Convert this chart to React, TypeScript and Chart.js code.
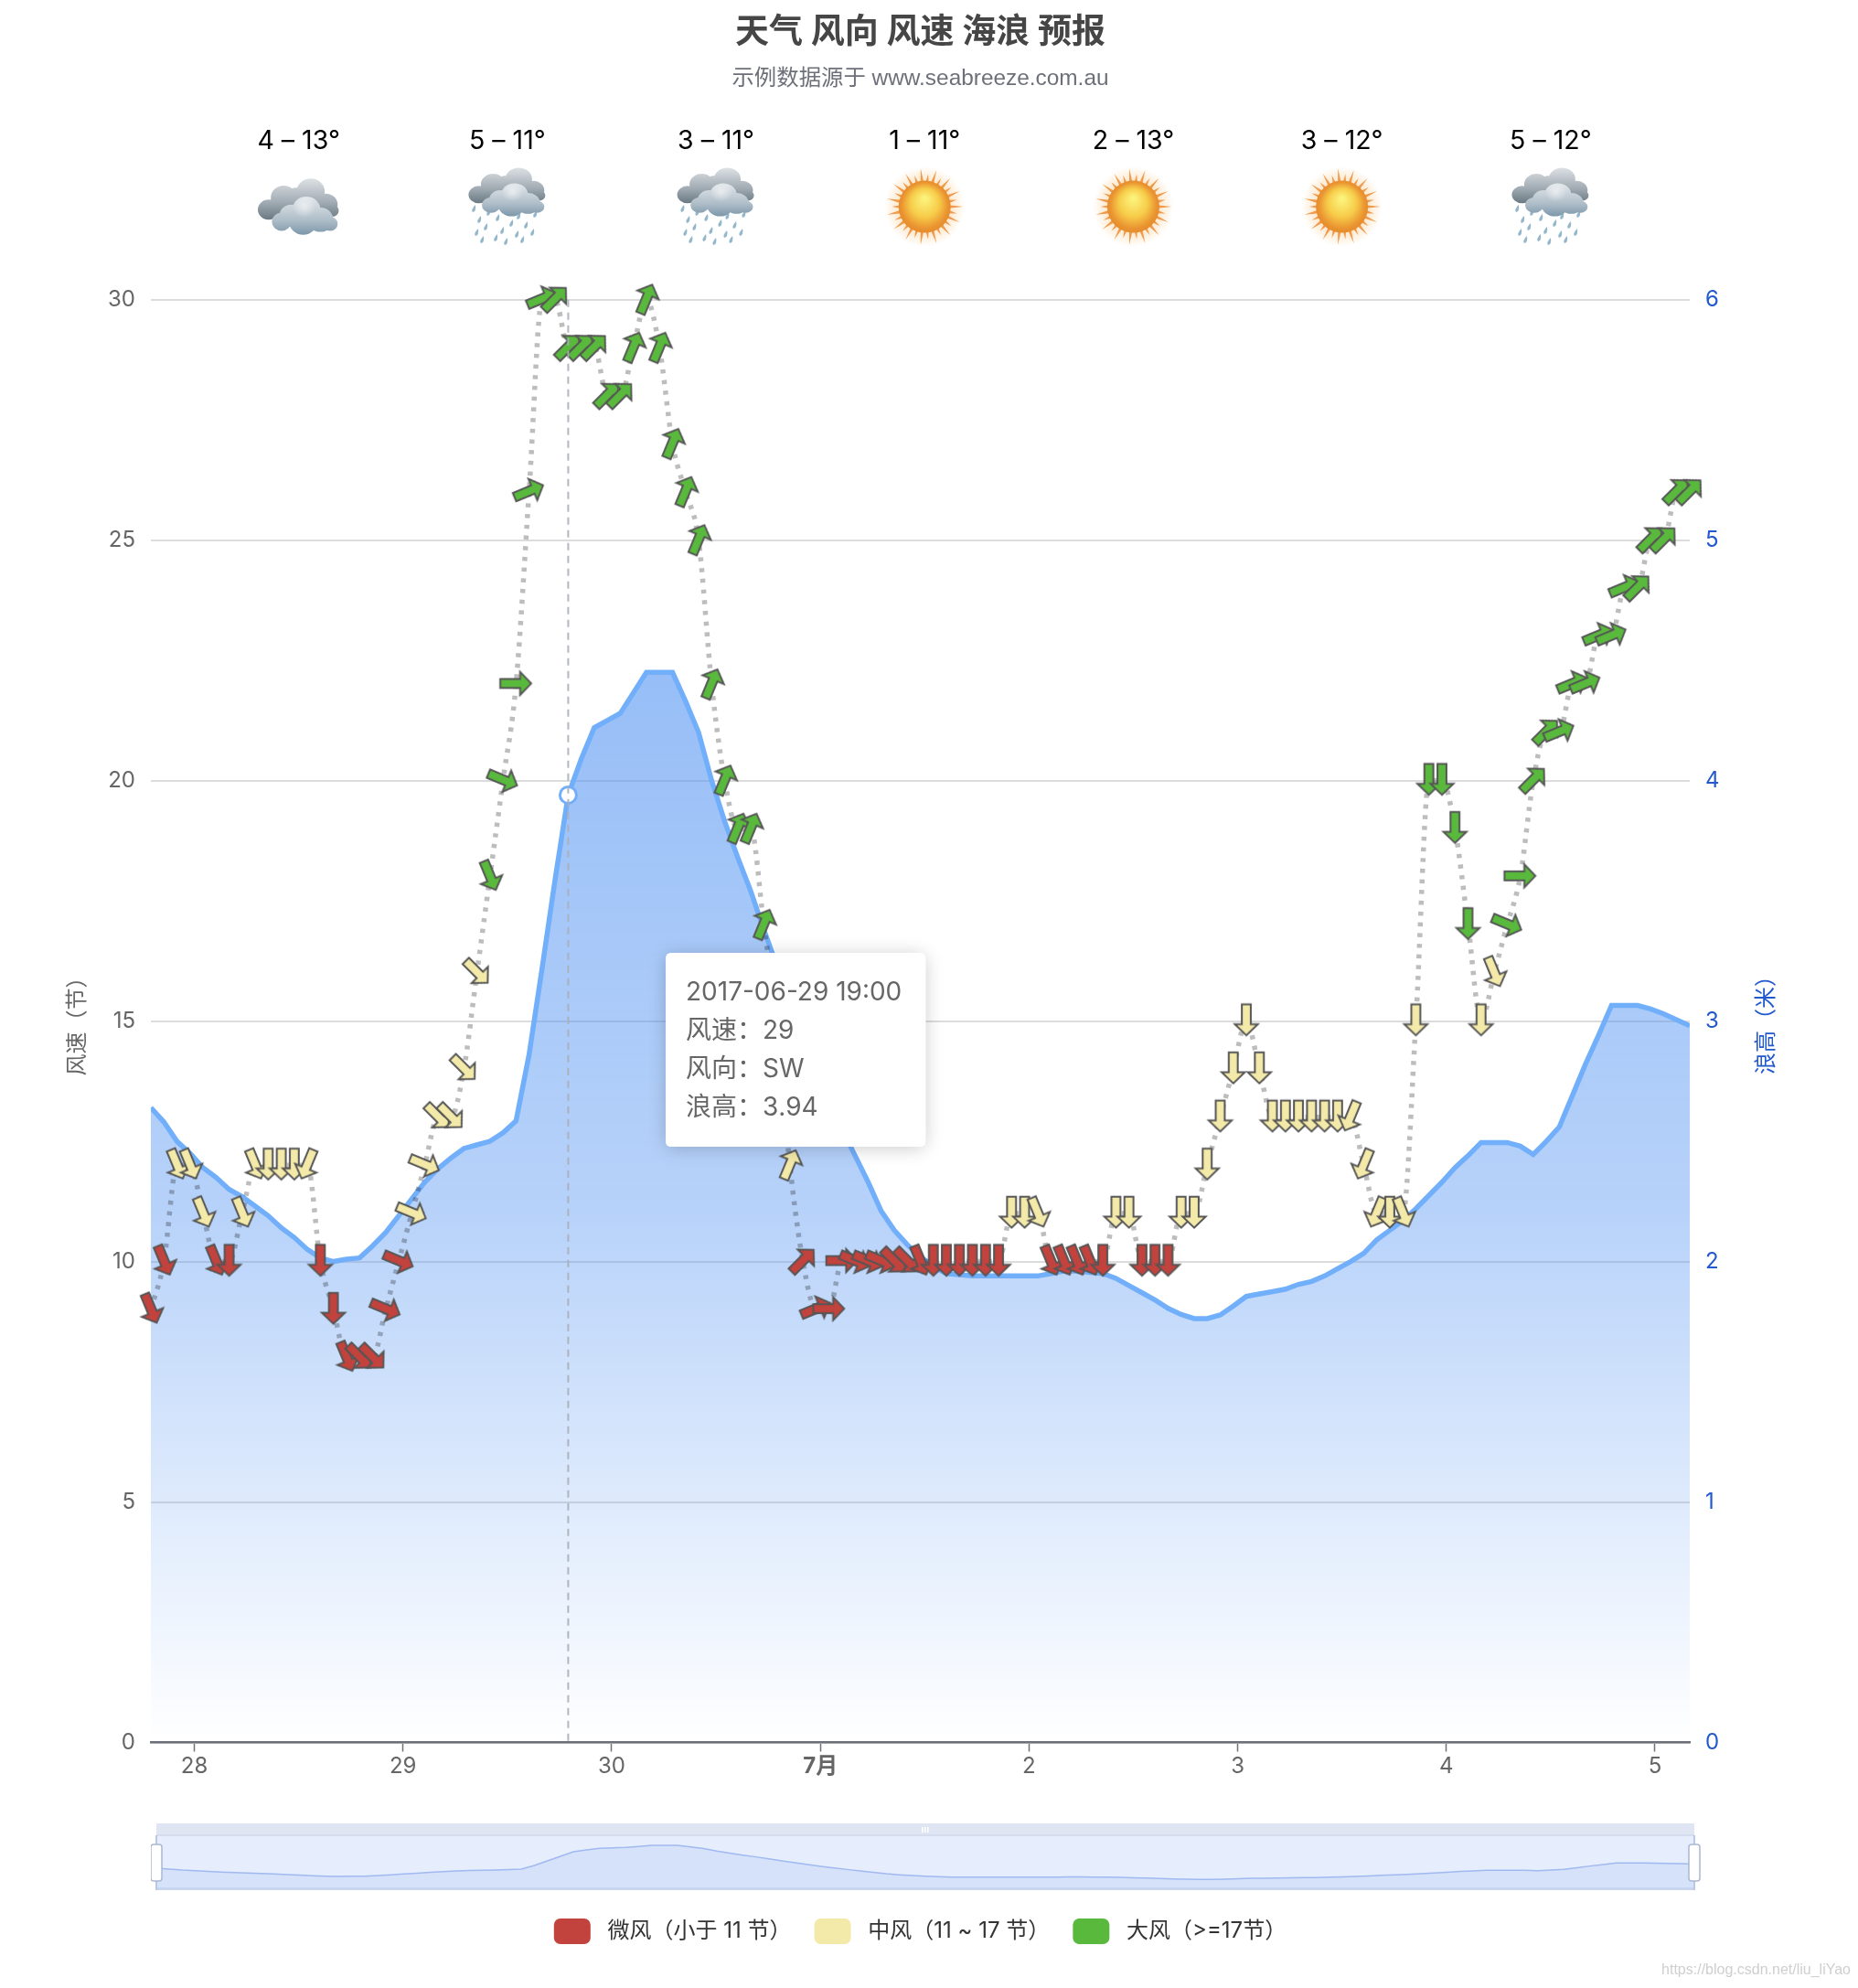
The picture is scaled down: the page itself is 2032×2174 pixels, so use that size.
import { useEffect, useRef } from 'react';
import { Chart, registerables, Tooltip } from 'chart.js';

Chart.register(...registerables);

const FONT = "Inter, 'Noto Sans CJK SC', sans-serif";
const CJK = "'Noto Sans CJK SC', sans-serif";

// hours since 2017-06-28 00:00, one reading each 1.5 h
const FIRST_HOUR = -5;
const STEP_HOURS = 1.5;
const LAST_HOUR = 172;

const windSpeed = [
  9,10,12,12,11,10,10,11,12,12,12,12,12,10,9,8,8,8,9,10,
  11,12,13,13,14,16,18,20,22,26,30,30,29,29,29,28,28,29,30,29,
  27,26,25,22,20,19,19,17,15,12,10,9,9,10,10,10,10,10,10,10,
  10,10,10,10,10,10,11,11,11,10,10,10,10,10,11,11,10,10,10,11,
  11,12,13,14,15,14,13,13,13,13,13,13,13,12,11,11,11,15,20,20,
  19,17,15,16,17,18,20,21,21,22,22,23,23,24,24,25,25,26,26,
];

const windDir = [
  'NNW','NNW','NNW','NNW','NNW','NNW','N','NNW','NNW','N','N','N','NNE','N','N','NNW','NW','NW','WNW','WNW',
  'WNW','WNW','NW','NW','NW','NW','NNW','WNW','W','WSW','WSW','SW','SW','SW','SW','SW','SW','SSW','SSW','SSW',
  'SSW','SSW','SSW','SSW','SSW','SSW','SSW','SSW','SSW','SSW','SW','WSW','W','W','WNW','WNW','WNW','NW','NW','NNW',
  'N','N','N','N','N','N','N','N','NNW','NNW','NNW','NNW','NNW','N','N','N','N','N','N','N',
  'N','N','N','N','N','N','N','N','N','N','N','N','NNE','NNE','NNE','N','NNW','N','N','N',
  'N','N','N','NNW','WNW','W','SW','SW','WSW','WSW','WSW','WSW','WSW','WSW','SW','SW','SW','SW','SW',
];

const waveHeight = [
  2.64,2.58,2.50,2.45,2.39,2.35,2.30,2.27,2.23,2.19,2.14,2.10,2.05,2.015,2.0,2.01,2.015,2.065,2.12,2.19,
  2.26,2.33,2.385,2.43,2.47,2.485,2.50,2.535,2.585,2.86,3.22,3.59,3.94,4.09,4.22,4.25,4.28,4.365,4.45,4.45,
  4.45,4.33,4.2,4.0,3.83,3.68,3.54,3.38,3.23,3.08,2.94,2.80,2.67,2.55,2.44,2.33,2.21,2.13,2.07,2.02,
  1.98,1.95,1.945,1.94,1.94,1.94,1.94,1.94,1.94,1.95,1.96,1.96,1.955,1.95,1.93,1.90,1.87,1.84,1.805,1.78,
  1.763,1.763,1.778,1.815,1.855,1.865,1.875,1.885,1.905,1.917,1.94,1.97,2.0,2.034,2.09,2.13,2.17,2.22,2.275,2.33,
  2.39,2.44,2.495,2.495,2.495,2.48,2.445,2.50,2.56,2.69,2.82,2.94,3.065,3.065,3.065,3.05,3.03,3.005,2.98,
];

const compassDegrees: Record<string, number> = {
  N: 0, NNE: 22.5, NE: 45, ENE: 67.5, E: 90, ESE: 112.5, SE: 135, SSE: 157.5,
  S: 180, SSW: 202.5, SW: 225, WSW: 247.5, W: 270, WNW: 292.5, NW: 315, NNW: 337.5,
};

const xTickHours = [0, 24, 48, 72, 96, 120, 144, 168];
const xTickLabels = ['28', '29', '30', '7月', '2', '3', '4', '5'];

const dayRanges = ['4 – 13°', '5 – 11°', '3 – 11°', '1 – 11°', '2 – 13°', '3 – 12°', '5 – 12°'];
const dayIcons = ['cloud', 'rain', 'rain', 'sun', 'sun', 'sun', 'rain'];
const dayNoonHours = [12, 36, 60, 84, 108, 132, 156];

const hoverIndex = 32;
const tooltipTitle = '2017-06-29 19:00';
const tooltipLines = ['风速：29', '风向：SW', '浪高：3.94'];

const bands = [
  { label: '微风（小于 11 节）', color: '#c2423d', test: (v: number) => v < 11 },
  { label: '中风（11 ~ 17 节）', color: '#f3e9a9', test: (v: number) => v >= 11 && v < 17 },
  { label: '大风（>=17节）', color: '#59b93c', test: (v: number) => v >= 17 },
];

const hourOf = (i: number) => FIRST_HOUR + STEP_HOURS * i;

function makeArrow(fill: string) {
  const c = document.createElement('canvas');
  c.width = 56;
  c.height = 56;
  const g = c.getContext('2d')!;
  g.translate(28, 28);
  g.beginPath();
  g.moveTo(0, -16.6);
  g.lineTo(12.6, -4.4);
  g.lineTo(4.9, -4.4);
  g.lineTo(4.9, 17.2);
  g.lineTo(-4.9, 17.2);
  g.lineTo(-4.9, -4.4);
  g.lineTo(-12.6, -4.4);
  g.closePath();
  g.fillStyle = fill;
  g.fill();
  g.lineWidth = 2;
  g.lineJoin = 'miter';
  g.strokeStyle = '#555';
  g.stroke();
  return c;
}

function blob(ctx: CanvasRenderingContext2D, circles: number[][], fill: CanvasGradient | string) {
  ctx.beginPath();
  for (const [x, y, r] of circles) {
    ctx.moveTo(x + r, y);
    ctx.arc(x, y, r, 0, Math.PI * 2);
  }
  ctx.fillStyle = fill;
  ctx.fill();
}

function drawCloudShape(ctx: CanvasRenderingContext2D) {
  const back = ctx.createLinearGradient(0, -28, 0, 14);
  back.addColorStop(0, '#dde1e4');
  back.addColorStop(0.55, '#a3adb5');
  back.addColorStop(1, '#66767f');
  blob(ctx, [[12, -15, 13], [-13, -9, 12], [-27, 3, 10], [26, -2, 11], [0, -6, 13], [-8, 4, 12], [32, 4, 6]], back);
  const front = ctx.createLinearGradient(0, -8, 0, 28);
  front.addColorStop(0, '#dfe4e8');
  front.addColorStop(0.6, '#aebdc8');
  front.addColorStop(1, '#7c97aa');
  blob(ctx, [[8, 3, 13], [-6, 9, 11], [-15, 15, 9], [21, 13, 12], [5, 15, 13], [30, 17, 7]], front);
  const shine = ctx.createRadialGradient(6, 0, 1, 6, 0, 11);
  shine.addColorStop(0, 'rgba(255,255,255,0.5)');
  shine.addColorStop(1, 'rgba(255,255,255,0)');
  blob(ctx, [[6, 0, 11]], shine);
}

function drawDrops(ctx: CanvasRenderingContext2D) {
  const drops = [
    [-36, 2], [-30, 14], [-33, 28], [-20, 6], [-23, 22], [-12, 34], [-10, 12], [-5, 26], [2, 4], [5, 18],
    [-1, 38], [13, 10], [11, 30], [22, 2], [21, 20], [31, 8], [28, 28], [37, 0], [-27, 36], [17, 36],
  ];
  ctx.fillStyle = 'rgba(130,170,195,0.85)';
  for (const [x, y] of drops) {
    ctx.beginPath();
    ctx.moveTo(x + 2, y - 5);
    ctx.quadraticCurveTo(x + 3.5, y + 2, x - 1, y + 3);
    ctx.quadraticCurveTo(x - 3, y, x + 2, y - 5);
    ctx.fill();
  }
}

function drawSun(ctx: CanvasRenderingContext2D) {
  const halo = ctx.createRadialGradient(0, 0, 26, 0, 0, 44);
  halo.addColorStop(0, 'rgba(250,190,110,0.4)');
  halo.addColorStop(1, 'rgba(250,190,110,0)');
  ctx.fillStyle = halo;
  ctx.beginPath();
  ctx.arc(0, 0, 44, 0, Math.PI * 2);
  ctx.fill();
  ctx.fillStyle = '#ef9a4c';
  const rays = 30;
  for (let k = 0; k < rays; k++) {
    const a = (k / rays) * Math.PI * 2;
    const len = k % 2 ? 36 : 42;
    ctx.beginPath();
    ctx.moveTo(Math.cos(a) * len, Math.sin(a) * len);
    ctx.lineTo(Math.cos(a + 0.07) * 26, Math.sin(a + 0.07) * 26);
    ctx.lineTo(Math.cos(a - 0.07) * 26, Math.sin(a - 0.07) * 26);
    ctx.closePath();
    ctx.fill();
  }
  const disc = ctx.createRadialGradient(0, -9, 2, 0, 0, 29);
  disc.addColorStop(0, '#fbf27a');
  disc.addColorStop(0.5, '#f7cc4a');
  disc.addColorStop(0.85, '#ea9531');
  disc.addColorStop(1, '#e58a2b');
  ctx.fillStyle = disc;
  ctx.beginPath();
  ctx.arc(0, 0, 28.5, 0, Math.PI * 2);
  ctx.fill();
}

const decorPlugin = {
  id: 'decor',
  beforeDatasetDraw(chart: any, args: any) {
    if (args.index < bands.length) {
      chart.ctx.save();
      chart.ctx.translate(0, -1);
    }
  },
  afterDatasetDraw(chart: any, args: any) {
    if (args.index < bands.length) chart.ctx.restore();
  },
  afterDatasetsDraw(chart: any) {
    const { ctx, scales } = chart;
    const x = scales.x;
    // hover guide line
    const hx = x.getPixelForValue(hourOf(hoverIndex));
    ctx.save();
    ctx.strokeStyle = 'rgba(170,175,185,0.9)';
    ctx.lineWidth = 2;
    ctx.setLineDash([8, 6]);
    ctx.beginPath();
    ctx.moveTo(hx, scales.y.top);
    ctx.lineTo(hx, scales.y.bottom);
    ctx.stroke();
    ctx.restore();

    // day headers
    dayRanges.forEach((text, d) => {
      const cx = x.getPixelForValue(dayNoonHours[d]);
      ctx.save();
      ctx.font = `28.5px ${FONT}`;
      ctx.fillStyle = '#000';
      ctx.textAlign = 'center';
      ctx.textBaseline = 'middle';
      ctx.fillText(text, cx, 154);
      ctx.restore();
      ctx.save();
      const kind = dayIcons[d];
      if (kind === 'sun') {
        ctx.translate(cx, 226);
        drawSun(ctx);
      } else if (kind === 'cloud') {
        ctx.translate(cx - 1, 226);
        ctx.scale(1.18, 1.1);
        drawCloudShape(ctx);
      } else {
        ctx.translate(cx - 1, 210);
        ctx.save();
        ctx.translate(0, 17);
        drawDrops(ctx);
        ctx.restore();
        ctx.scale(1.12, 0.95);
        drawCloudShape(ctx);
      }
      ctx.restore();
    });

    // right axis name
    ctx.save();
    ctx.translate(1930, 1115);
    ctx.rotate(-Math.PI / 2);
    ctx.font = `24px ${CJK}`;
    ctx.fillStyle = '#2259cf';
    ctx.textAlign = 'center';
    ctx.textBaseline = 'middle';
    ctx.fillText('浪高（米）', 0, 0);
    ctx.restore();

    // watermark
    ctx.save();
    ctx.font = '16px "Liberation Sans", sans-serif';
    ctx.fillStyle = '#cfcfcf';
    ctx.textAlign = 'right';
    ctx.textBaseline = 'middle';
    ctx.fillText('https://blog.csdn.net/liu_liYao', 2024, 2155);
    ctx.restore();
  },
  beforeTooltipDraw(chart: any, args: any) {
    const t = args.tooltip;
    const ctx = chart.ctx;
    ctx.save();
    ctx.shadowColor = 'rgba(0,0,0,0.2)';
    ctx.shadowBlur = 20;
    ctx.shadowOffsetY = 2;
    ctx.fillStyle = '#fff';
    ctx.beginPath();
    ctx.roundRect(t.x, t.y, t.width, t.height, 8);
    ctx.fill();
    ctx.restore();
  },
};

const sliderPlugin = {
  id: 'sliderFrame',
  beforeDatasetsDraw(chart: any) {
    const { ctx, chartArea: a } = chart;
    ctx.save();
    ctx.fillStyle = '#dfe5f2';
    ctx.fillRect(a.left, a.top - 14, a.right - a.left, 14);
    ctx.fillStyle = '#d5dcee';
    ctx.fillRect(a.left, a.top - 2, a.right - a.left, 2);
    ctx.fillStyle = '#e6eefe';
    ctx.fillRect(a.left, a.top, a.right - a.left, a.bottom - a.top);
    ctx.restore();
  },
  afterDatasetsDraw(chart: any) {
    const { ctx, chartArea: a } = chart;
    ctx.save();
    ctx.fillStyle = 'rgba(190,205,235,0.6)';
    ctx.fillRect(a.left, a.bottom - 3, a.right - a.left, 3);
    ctx.strokeStyle = '#b9c8e4';
    ctx.lineWidth = 2;
    ctx.beginPath();
    ctx.moveTo(a.left, a.top - 1);
    ctx.lineTo(a.left, a.bottom);
    ctx.moveTo(a.right, a.top - 1);
    ctx.lineTo(a.right, a.bottom);
    ctx.stroke();
    for (const hx of [a.left, a.right]) {
      ctx.fillStyle = '#fff';
      ctx.strokeStyle = '#acb8d1';
      ctx.lineWidth = 1.5;
      ctx.beginPath();
      ctx.roundRect(hx - 6, a.top + 9, 12, 40, 3);
      ctx.fill();
      ctx.stroke();
    }
    const mid = (a.left + a.right) / 2;
    ctx.fillStyle = '#fff';
    for (const dx of [-4, -1, 2]) ctx.fillRect(mid + dx, a.top - 10, 1.6, 6);
    ctx.restore();
  },
};

export default function App() {
  const mainRef = useRef<HTMLCanvasElement>(null);
  const miniRef = useRef<HTMLCanvasElement>(null);

  useEffect(() => {
    (Tooltip as any).positioners.fixedBox = () => ({ x: 734, y: 1042 });

    const arrowData = bands.map((band) =>
      windSpeed
        .map((v, i) => ({ x: hourOf(i), y: v, rot: compassDegrees[windDir[i]] + 180 }))
        .filter((p) => band.test(p.y)),
    );

    const chart = new Chart(mainRef.current!, {
      type: 'scatter',
      data: {
        datasets: [
          ...bands.map((band, b) => ({
            type: 'scatter',
            label: band.label,
            data: arrowData[b],
            yAxisID: 'y',
            pointStyle: makeArrow(band.color),
            rotation: (c: any) => c.raw?.rot ?? 0,
            radius: 18,
            backgroundColor: band.color,
            clip: false,
            order: 1,
          })),
          {
            type: 'line',
            label: '风速',
            data: windSpeed.map((v, i) => ({ x: hourOf(i), y: v })),
            yAxisID: 'y',
            borderColor: 'rgba(0,0,0,0.26)',
            borderWidth: 5.5,
            borderDash: [4.5, 7.2],
            borderCapStyle: 'butt',
            cubicInterpolationMode: 'monotone',
            pointRadius: 0,
            fill: false,
            clip: false,
            order: 2,
          },
          {
            type: 'line',
            label: '浪高',
            data: waveHeight.map((v, i) => ({ x: hourOf(i), y: v })),
            yAxisID: 'y1',
            borderColor: '#72affb',
            borderWidth: 5.5,
            tension: 0,
            fill: 'origin',
            backgroundColor: (c: any) => {
              const ch = c.chart;
              if (!ch.chartArea) return 'rgba(87,150,242,0.4)';
              const g = ch.ctx.createLinearGradient(0, ch.scales.y1.getPixelForValue(4.45), 0, ch.chartArea.bottom);
              g.addColorStop(0, 'rgba(87,150,242,0.62)');
              g.addColorStop(0.5, 'rgba(87,150,242,0.43)');
              g.addColorStop(1, 'rgba(87,150,242,0)');
              return g;
            },
            pointRadius: (c: any) => (c.dataIndex === hoverIndex ? 9 : 0),
            pointHoverRadius: (c: any) => (c.dataIndex === hoverIndex ? 9 : 0),
            pointBackgroundColor: '#fff',
            pointBorderColor: '#72affb',
            pointBorderWidth: 3,
            pointHoverBackgroundColor: '#fff',
            pointHoverBorderColor: '#72affb',
            pointHoverBorderWidth: 3,
            order: 3,
          },
        ] as any,
      },
      options: {
        animation: false,
        responsive: false,
        events: [],
        layout: { autoPadding: false, padding: { bottom: 38 } },
        plugins: {
          title: {
            display: true,
            text: '天气 风向 风速 海浪 预报',
            fullSize: false,
            color: '#464646',
            font: { family: FONT, size: 37, weight: 'bold', lineHeight: 1.2 },
            padding: { top: 14, bottom: 0 },
          },
          subtitle: {
            display: true,
            text: '示例数据源于 www.seabreeze.com.au',
            fullSize: false,
            color: '#6e7079',
            font: { family: "'Liberation Sans', 'Noto Sans CJK SC', sans-serif", size: 24.4, weight: 'normal', lineHeight: 1.2 },
            padding: { top: 13, bottom: 227 },
          },
          legend: {
            display: true,
            position: 'bottom',
            fullSize: false,
            labels: {
              boxWidth: 40,
              boxHeight: 28,
              useBorderRadius: true,
              borderRadius: 7,
              padding: 25,
              color: '#333',
              font: { family: FONT, size: 24 },
              generateLabels: () =>
                bands.map((band, b) => ({
                  text: ' ' + band.label,
                  fillStyle: band.color,
                  strokeStyle: band.color,
                  fontColor: '#333',
                  lineWidth: 0,
                  datasetIndex: b,
                  borderRadius: 7,
                  hidden: false,
                })),
            },
          },
          tooltip: {
            enabled: true,
            animation: false,
            position: 'fixedBox',
            xAlign: 'left',
            yAlign: 'top',
            caretSize: 0,
            caretPadding: 0,
            cornerRadius: 6,
            backgroundColor: '#fff',
            titleColor: '#666',
            bodyColor: '#666',
            titleFont: { family: FONT, size: 28, weight: 'normal', lineHeight: 1.5 },
            bodyFont: { family: FONT, size: 28, weight: 'normal', lineHeight: 1.5 },
            titleMarginBottom: 0,
            titleSpacing: 0,
            bodySpacing: 0,
            displayColors: false,
            padding: { left: 22, right: 26, top: 23, bottom: 21 },
            callbacks: {
              title: () => tooltipTitle,
              label: () => tooltipLines,
            },
          },
        },
        scales: {
          x: {
            type: 'linear',
            min: FIRST_HOUR,
            max: LAST_HOUR,
            afterFit: (s: any) => {
              s.height = 167.5;
            },
            afterBuildTicks: (s: any) => {
              s.ticks = xTickHours.map((value) => ({ value }));
            },
            border: { display: true, color: '#6e7079', width: 2.5 },
            grid: { drawOnChartArea: false, drawTicks: true, tickLength: 10, tickWidth: 1.5, tickColor: '#6e7079' },
            ticks: {
              autoSkip: false,
              maxRotation: 0,
              padding: 2,
              color: '#666',
              font: (c: any) => ({ family: FONT, size: 24, weight: c.tick?.value === 72 ? 'bold' : 'normal' }),
              callback: (v: any) => xTickLabels[xTickHours.indexOf(v)] ?? '',
            },
          },
          y: {
            position: 'left',
            min: 0,
            max: 30,
            afterFit: (s: any) => {
              s.width = 165;
            },
            border: { display: false },
            grid: { color: '#dcdcdc', lineWidth: 2, drawTicks: false },
            ticks: { stepSize: 5, padding: 17, color: '#666', font: { family: FONT, size: 24 } },
            title: {
              display: true,
              text: '风速（节）',
              color: '#666',
              font: { family: CJK, size: 24, lineHeight: 1.2 },
              padding: { top: 68.6, bottom: 0 },
            },
          },
          y1: {
            position: 'right',
            min: 0,
            max: 6,
            afterFit: (s: any) => {
              s.width = 184;
            },
            border: { display: false },
            grid: { drawOnChartArea: false, drawTicks: false },
            ticks: { stepSize: 1, padding: 17, color: '#2259cf', font: { family: FONT, size: 24 } },
          },
        },
      } as any,
      plugins: [decorPlugin],
    });

    const waveDatasetIndex = bands.length + 1;
    chart.tooltip!.setActiveElements([{ datasetIndex: waveDatasetIndex, index: hoverIndex }], { x: 621, y: 866 });
    chart.setActiveElements([{ datasetIndex: waveDatasetIndex, index: hoverIndex }]);
    chart.render();

    const mini = new Chart(miniRef.current!, {
      type: 'line',
      data: {
        datasets: [
          {
            data: waveHeight.map((v, i) => ({ x: hourOf(i), y: v })),
            borderColor: '#a0b9f0',
            borderWidth: 1.5,
            backgroundColor: '#d6e1fa',
            fill: 'origin',
            pointRadius: 0,
            tension: 0,
          },
        ],
      },
      options: {
        animation: false,
        responsive: false,
        events: [],
        layout: { autoPadding: false, padding: { left: 6, right: 12, top: 23, bottom: 13 } },
        plugins: { legend: { display: false }, tooltip: { enabled: false } },
        scales: {
          x: { type: 'linear', display: false, min: FIRST_HOUR, max: LAST_HOUR },
          y: { display: false, min: 0.92, max: 5.17 },
        },
      } as any,
      plugins: [sliderPlugin],
    });

    return () => {
      chart.destroy();
      mini.destroy();
    };
  }, []);

  return (
    <div style={{ position: 'absolute', left: 0, top: 0, width: 2032, height: 2174, background: '#fff' }}>
      <canvas ref={mainRef} width={2032} height={2174} style={{ position: 'absolute', left: 0, top: 0 }} />
      <canvas ref={miniRef} width={1700} height={95} style={{ position: 'absolute', left: 165, top: 1985 }} />
    </div>
  );
}
